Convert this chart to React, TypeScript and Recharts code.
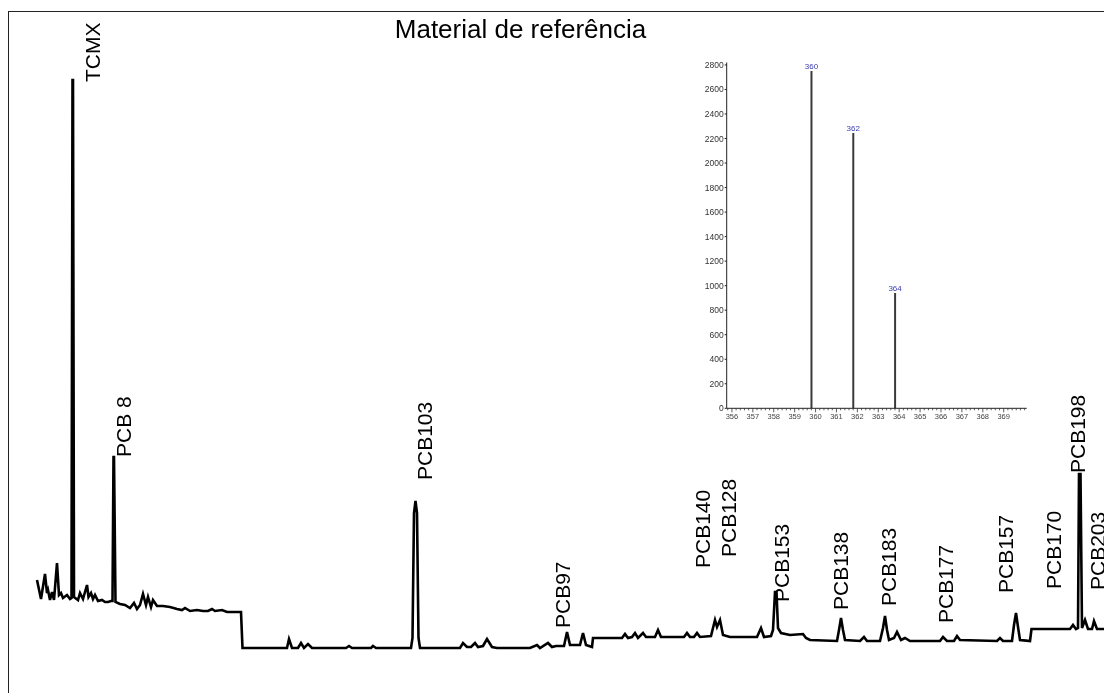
import { ComposedChart, Line, Scatter, XAxis, YAxis, BarChart, Bar, LabelList } from 'recharts';

const FONT = '"Liberation Sans", Arial, Helvetica, sans-serif';

// chromatogram trace: [retention (scan units), signal]
const chromatogram: [number, number][] = [
  [29, 118], [33, 99], [37, 124], [39, 105], [40, 108], [42, 98], [44, 106], [46, 98],
  [49, 135], [51, 103], [53, 105], [55, 100], [59, 103], [62, 99], [63.5, 100],
  [64.5, 618], [65, 618], [66, 101], [70, 98], [72, 105], [75, 99], [79, 113], [80.5, 101],
  [83, 105], [85, 99], [87, 103], [90, 97], [94, 98], [97, 96], [100, 96], [103, 97],
  [104.5, 97], [105.5, 241], [106, 241], [107.5, 96], [112, 94], [117, 93], [122, 90],
  [126, 95], [129, 89], [132, 93], [135, 104], [138, 93], [140, 101], [143, 91], [145, 98],
  [149, 92], [155, 92], [162, 91], [169, 89], [174, 88], [177, 90], [182, 87], [189, 88],
  [195, 87], [200, 87], [204, 89], [207, 87], [214, 88], [219, 86], [225, 86], [233, 86],
  [234.5, 50], [279, 50], [281, 59], [284, 50], [290, 50], [293, 55], [296, 50], [300, 54],
  [304, 50], [338, 50], [341, 52], [344, 50], [363, 50], [365, 52], [368, 50], [403, 50],
  [404.5, 60], [406, 185], [407.5, 197], [409, 185], [410.5, 60], [412, 50],
  [452, 50], [455, 55], [459, 51], [463, 51], [467, 55], [470, 51], [475, 52], [479, 59],
  [484, 51], [489, 50], [522, 50], [529, 53], [532, 50], [540, 55], [544, 51], [548, 52],
  [552, 52], [556, 52], [559, 66], [562, 53], [567, 53], [572, 53], [575, 65], [578, 53],
  [584, 51], [585, 60], [614, 60], [617, 64], [620, 60], [624, 61], [627, 65], [630, 60],
  [635, 65], [638, 61], [647, 61], [650, 68], [653, 61], [676, 61], [679, 65], [682, 61],
  [686, 61], [689, 65], [692, 61], [703, 62], [707, 78], [709, 71], [712, 78], [715, 63],
  [722, 61], [749, 61], [753, 70], [756, 61], [763, 62], [765, 68], [767, 106], [768.5, 106],
  [770, 70], [773, 65], [782, 63], [795, 64], [798, 60], [802, 58], [829, 57], [831, 68],
  [833, 80], [835, 68], [837, 58], [852, 57], [856, 61], [859, 57], [872, 57], [875, 70],
  [877, 82], [879, 68], [881, 58], [886, 60], [889, 66], [893, 58], [897, 60], [902, 57],
  [932, 57], [935, 61], [939, 57], [946, 57], [949, 62], [952, 58], [989, 57], [992, 60],
  [995, 57], [1004, 57], [1006, 73], [1008, 85], [1010, 71], [1012, 58], [1022, 57],
  [1023.5, 69], [1062, 69], [1065, 73], [1068, 69], [1070, 70], [1071, 224], [1072.5, 224],
  [1074, 70], [1077, 78], [1080, 69], [1084, 69], [1086, 77], [1089, 69], [1102, 69], [1112, 69],
];

// peak names and where each rotated name starts
const peakNames = ['TCMX', 'PCB 8', 'PCB103', 'PCB97', 'PCB140', 'PCB128', 'PCB153', 'PCB138',
  'PCB183', 'PCB177', 'PCB157', 'PCB170', 'PCB198', 'PCB203'];
const peakNameRt = [92, 123, 424, 562, 702, 728, 781, 840, 888, 945, 1005, 1053, 1077, 1097];
const peakNameSignal = [616, 241, 218, 70, 130, 141, 96, 88, 92, 75, 105, 109, 225, 108];

// inset mass spectrum
const mzValues = [359.8, 361.8, 363.8];
const mzIntensity = [2750, 2245, 940];
const mzLabels = ['360', '362', '364'];
const mzMajorTicks = [356, 357, 358, 359, 360, 361, 362, 363, 364, 365, 366, 367, 368, 369];
const intensityTicks = [0, 200, 400, 600, 800, 1000, 1200, 1400, 1600, 1800, 2000, 2200, 2400, 2600, 2800];

const traceData = chromatogram.map(([rt, signal]) => ({ rt, signal }));
const labelData = peakNames.map((name, i) => ({ name, rt: peakNameRt[i], signal: peakNameSignal[i] }));
const spectrumData = mzValues.map((mz, i) => ({ mz, intensity: mzIntensity[i], label: mzLabels[i] }));

const mzTicks = [355.8];
mzMajorTicks.forEach((m) => {
  [0, 0.2, 0.4, 0.6, 0.8].forEach((d) => mzTicks.push(Math.round((m + d) * 10) / 10));
});
mzTicks.push(370);

function PeakName(props: any) {
  const { cx, cy, payload } = props;
  return (
    <text x={cx} y={cy} transform={`rotate(-90 ${cx} ${cy})`} fontSize={21} fontFamily={FONT} fill="#000">
      {payload.name}
    </text>
  );
}

function MzTick(props: any) {
  const { x, y, payload } = props;
  const v = payload.value;
  const major = mzMajorTicks.includes(Math.round(v)) && Math.abs(v - Math.round(v)) < 0.01;
  return (
    <g>
      <line x1={x} x2={x} y1={y} y2={y + (major ? 4 : 2)} stroke="#333" strokeWidth={0.8} />
      {major && (
        <text x={x} y={y + 11} textAnchor="middle" fontSize={7.5} fill="#444" fontFamily={FONT}>
          {Math.round(v)}
        </text>
      )}
    </g>
  );
}

export default function App() {
  return (
    <div style={{ position: 'fixed', left: 8, top: 8, width: 1096, height: 685, overflow: 'hidden', fontFamily: FONT }}>
      <div style={{ position: 'absolute', left: 0, top: 3, width: 1200, height: 800, border: '1px solid #222', boxSizing: 'border-box' }} />
      <div style={{ position: 'absolute', left: 312.5, top: 7.7, width: 400, textAlign: 'center', fontSize: 26, lineHeight: '26px', color: '#000' }}>
        Material de referência
      </div>

      <div style={{ position: 'absolute', left: 0, top: 0 }}>
        <ComposedChart width={1120} height={690} margin={{ top: 0, right: 0, bottom: 0, left: 0 }}>
          <XAxis dataKey="rt" type="number" domain={[0, 1120]} hide allowDataOverflow />
          <YAxis type="number" domain={[0, 690]} hide allowDataOverflow />
          <Line data={traceData} dataKey="signal" type="linear" stroke="#000" strokeWidth={2.6}
            dot={false} isAnimationActive={false} />
          <Scatter data={labelData} dataKey="signal" shape={<PeakName />} isAnimationActive={false} />
        </ComposedChart>
      </div>

      <div style={{ position: 'absolute', left: 682, top: 42 }}>
        <BarChart width={360} height={380} data={spectrumData}
          margin={{ top: 12.5, right: 23.3, bottom: 6.7, left: 0 }}>
          <XAxis dataKey="mz" type="number" domain={[355.75, 370.1]} ticks={mzTicks} interval={0}
            tickLine={false} tickSize={0} tickMargin={0} height={15} stroke="#222"
            tick={(p: any) => <MzTick {...p} />} allowDataOverflow />
          <YAxis type="number" domain={[0, 2820]} ticks={intensityTicks} interval={0} width={36.7}
            tickSize={2} tickMargin={1} stroke="#222"
            tick={{ fontSize: 8.5, fill: '#333', fontFamily: FONT }} />
          <Bar dataKey="intensity" fill="#3a3a3a" barSize={2} isAnimationActive={false}>
            <LabelList dataKey="label" position="top" offset={2} fill="#3b3bb0" fontSize={8} fontFamily={FONT} />
          </Bar>
        </BarChart>
      </div>
    </div>
  );
}
